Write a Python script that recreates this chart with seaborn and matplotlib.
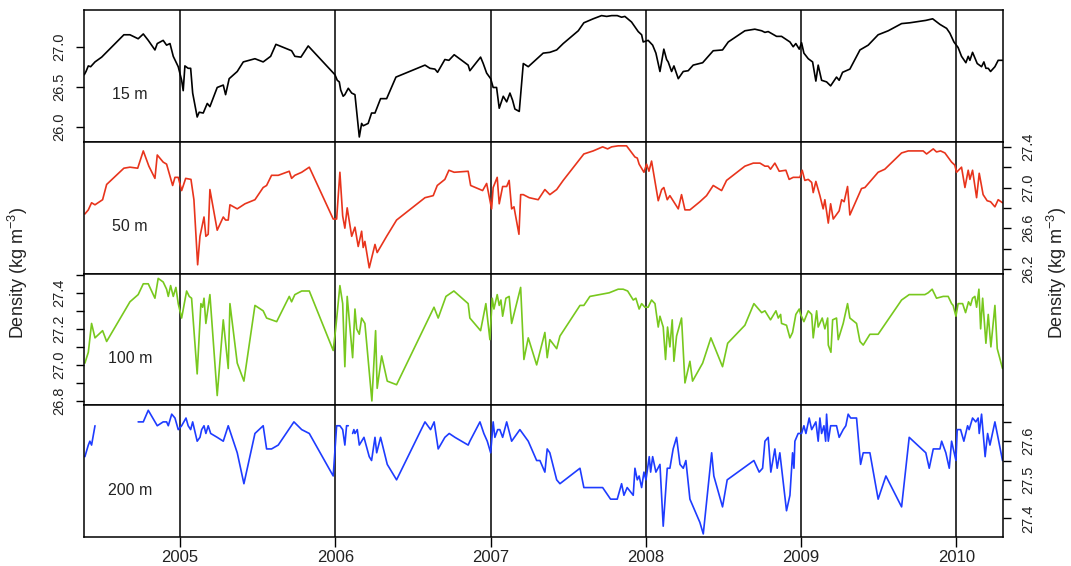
import numpy as np
import pandas as pd
import matplotlib
matplotlib.use("Agg")
import matplotlib.pyplot as plt
import seaborn as sns

# Density time series (decimal year, kg m^-3) at four depths
depth_15m = [
    (2004.384, 26.65), (2004.395, 26.69), (2004.410, 26.76), (2004.425, 26.75), (2004.453, 26.81),
    (2004.496, 26.87), (2004.639, 27.15), (2004.678, 27.15), (2004.731, 27.10), (2004.764, 27.16),
    (2004.796, 27.08), (2004.839, 26.96), (2004.854, 27.04), (2004.892, 27.08), (2004.914, 27.02),
    (2004.936, 27.04), (2004.957, 26.88), (2004.989, 26.75), (2005.011, 26.58), (2005.021, 26.45),
    (2005.032, 26.76), (2005.053, 26.73), (2005.069, 26.73), (2005.082, 26.42), (2005.111, 26.12),
    (2005.124, 26.18), (2005.150, 26.17), (2005.176, 26.29), (2005.193, 26.25), (2005.240, 26.49),
    (2005.279, 26.52), (2005.294, 26.40), (2005.317, 26.60), (2005.369, 26.69), (2005.408, 26.81),
    (2005.483, 26.85), (2005.536, 26.81), (2005.584, 26.88), (2005.618, 27.03), (2005.719, 26.95),
    (2005.740, 26.88), (2005.779, 26.87), (2005.826, 27.01), (2005.998, 26.65), (2006.013, 26.58),
    (2006.026, 26.56), (2006.035, 26.46), (2006.051, 26.38), (2006.062, 26.40), (2006.084, 26.48),
    (2006.106, 26.42), (2006.127, 26.40), (2006.155, 25.87), (2006.170, 26.04), (2006.180, 26.01),
    (2006.212, 26.04), (2006.234, 26.17), (2006.256, 26.17), (2006.292, 26.35), (2006.331, 26.35),
    (2006.391, 26.62), (2006.578, 26.77), (2006.610, 26.73), (2006.642, 26.72), (2006.659, 26.68),
    (2006.706, 26.84), (2006.732, 26.83), (2006.766, 26.90), (2006.856, 26.77), (2006.867, 26.70),
    (2006.936, 26.87), (2006.953, 26.79), (2006.975, 26.67), (2007.001, 26.60), (2007.017, 26.49),
    (2007.039, 26.49), (2007.056, 26.23), (2007.082, 26.38), (2007.104, 26.31), (2007.125, 26.42),
    (2007.142, 26.33), (2007.157, 26.22), (2007.185, 26.19), (2007.211, 26.79), (2007.243, 26.75),
    (2007.339, 26.92), (2007.382, 26.93), (2007.426, 26.96), (2007.468, 27.04), (2007.565, 27.20),
    (2007.601, 27.30), (2007.661, 27.35), (2007.715, 27.39), (2007.748, 27.38), (2007.780, 27.39),
    (2007.816, 27.39), (2007.844, 27.37), (2007.865, 27.38), (2007.908, 27.31), (2007.951, 27.19),
    (2007.973, 27.15), (2007.983, 27.06), (2008.015, 27.08), (2008.044, 27.02), (2008.065, 26.92),
    (2008.091, 26.69), (2008.116, 26.97), (2008.134, 26.84), (2008.144, 26.81), (2008.166, 26.69),
    (2008.181, 26.76), (2008.209, 26.60), (2008.241, 26.69), (2008.273, 26.70), (2008.305, 26.77),
    (2008.366, 26.80), (2008.434, 26.95), (2008.494, 26.96), (2008.531, 27.06), (2008.638, 27.20),
    (2008.702, 27.22), (2008.746, 27.20), (2008.767, 27.18), (2008.788, 27.19), (2008.842, 27.13),
    (2008.874, 27.13), (2008.928, 27.06), (2008.949, 27.00), (2008.966, 27.04), (2008.988, 26.97),
    (2009.003, 27.05), (2009.018, 26.92), (2009.046, 26.85), (2009.074, 26.81), (2009.095, 26.57),
    (2009.110, 26.77), (2009.132, 26.58), (2009.164, 26.56), (2009.190, 26.51), (2009.228, 26.62),
    (2009.245, 26.58), (2009.267, 26.68), (2009.314, 26.72), (2009.379, 26.96), (2009.432, 27.02),
    (2009.496, 27.15), (2009.561, 27.20), (2009.647, 27.29), (2009.700, 27.30), (2009.803, 27.33),
    (2009.847, 27.35), (2009.894, 27.28), (2009.937, 27.23), (2009.958, 27.17), (2009.984, 27.06),
    (2010.011, 26.99), (2010.033, 26.88), (2010.061, 26.80), (2010.076, 26.88), (2010.087, 26.83),
    (2010.104, 26.93), (2010.134, 26.79), (2010.162, 26.75), (2010.177, 26.81), (2010.190, 26.73),
    (2010.205, 26.73), (2010.220, 26.69), (2010.248, 26.75), (2010.269, 26.83), (2010.297, 26.83),
]

depth_50m = [
    (2004.388, 26.74), (2004.410, 26.78), (2004.431, 26.85), (2004.453, 26.83), (2004.502, 26.88),
    (2004.528, 27.03), (2004.639, 27.19), (2004.678, 27.20), (2004.728, 27.19), (2004.764, 27.36),
    (2004.800, 27.21), (2004.839, 27.09), (2004.854, 27.32), (2004.892, 27.25), (2004.914, 27.23),
    (2004.936, 27.11), (2004.953, 27.02), (2004.968, 27.10), (2004.989, 27.10), (2005.011, 26.97),
    (2005.037, 27.09), (2005.071, 27.08), (2005.090, 26.88), (2005.114, 26.24), (2005.129, 26.52),
    (2005.155, 26.71), (2005.167, 26.52), (2005.182, 26.54), (2005.193, 26.98), (2005.240, 26.58),
    (2005.279, 26.71), (2005.294, 26.68), (2005.311, 26.68), (2005.322, 26.83), (2005.369, 26.79),
    (2005.419, 26.84), (2005.483, 26.88), (2005.536, 27.00), (2005.558, 27.02), (2005.590, 27.12),
    (2005.633, 27.12), (2005.704, 27.16), (2005.719, 27.09), (2005.740, 27.12), (2005.784, 27.15),
    (2005.833, 27.20), (2005.987, 26.69), (2006.009, 26.69), (2006.030, 27.15), (2006.048, 26.72),
    (2006.062, 26.60), (2006.077, 26.80), (2006.106, 26.52), (2006.127, 26.61), (2006.148, 26.42),
    (2006.170, 26.57), (2006.180, 26.41), (2006.191, 26.47), (2006.219, 26.21), (2006.256, 26.44),
    (2006.270, 26.36), (2006.331, 26.52), (2006.395, 26.68), (2006.578, 26.90), (2006.631, 26.92),
    (2006.657, 27.02), (2006.706, 27.08), (2006.732, 27.17), (2006.766, 27.15), (2006.856, 27.16),
    (2006.872, 27.02), (2006.949, 26.97), (2006.975, 27.04), (2007.007, 26.79), (2007.017, 27.00),
    (2007.043, 27.10), (2007.056, 26.84), (2007.078, 27.01), (2007.104, 27.01), (2007.120, 27.07),
    (2007.136, 26.79), (2007.151, 26.81), (2007.183, 26.54), (2007.194, 26.93), (2007.211, 26.93),
    (2007.249, 26.90), (2007.307, 26.88), (2007.350, 26.98), (2007.382, 26.93), (2007.426, 26.98),
    (2007.468, 27.07), (2007.601, 27.33), (2007.661, 27.36), (2007.722, 27.40), (2007.754, 27.38),
    (2007.780, 27.40), (2007.822, 27.41), (2007.876, 27.41), (2007.930, 27.30), (2007.945, 27.29),
    (2007.957, 27.23), (2007.988, 27.15), (2008.005, 27.23), (2008.020, 27.16), (2008.037, 27.26),
    (2008.080, 26.87), (2008.102, 26.98), (2008.116, 27.00), (2008.138, 26.88), (2008.155, 26.92),
    (2008.209, 26.79), (2008.230, 26.93), (2008.252, 26.78), (2008.284, 26.78), (2008.348, 26.86),
    (2008.391, 26.92), (2008.434, 27.02), (2008.488, 26.97), (2008.520, 27.07), (2008.638, 27.21),
    (2008.692, 27.24), (2008.735, 27.24), (2008.767, 27.21), (2008.788, 27.21), (2008.803, 27.18),
    (2008.831, 27.24), (2008.859, 27.16), (2008.902, 27.17), (2008.923, 27.08), (2008.949, 27.10),
    (2008.992, 27.10), (2009.007, 27.17), (2009.024, 27.07), (2009.046, 27.08), (2009.068, 27.05),
    (2009.078, 26.95), (2009.095, 27.06), (2009.121, 26.92), (2009.142, 26.79), (2009.153, 26.88),
    (2009.175, 26.65), (2009.190, 26.84), (2009.207, 26.69), (2009.245, 26.77), (2009.261, 26.88),
    (2009.277, 26.86), (2009.299, 27.01), (2009.314, 26.73), (2009.389, 26.99), (2009.411, 27.00),
    (2009.496, 27.15), (2009.539, 27.18), (2009.647, 27.34), (2009.690, 27.36), (2009.786, 27.36),
    (2009.808, 27.33), (2009.851, 27.38), (2009.872, 27.35), (2009.898, 27.36), (2009.926, 27.34),
    (2009.969, 27.25), (2009.990, 27.22), (2010.001, 27.15), (2010.033, 27.20), (2010.055, 27.00),
    (2010.076, 27.17), (2010.087, 27.08), (2010.104, 27.17), (2010.130, 26.90), (2010.147, 27.14),
    (2010.172, 26.93), (2010.198, 26.87), (2010.220, 26.86), (2010.248, 26.81), (2010.269, 26.88),
    (2010.297, 26.85),
]

depth_100m = [
    (2004.388, 27.01), (2004.410, 27.07), (2004.431, 27.23), (2004.453, 27.15), (2004.502, 27.19),
    (2004.528, 27.13), (2004.678, 27.35), (2004.731, 27.39), (2004.764, 27.45), (2004.796, 27.45),
    (2004.839, 27.37), (2004.860, 27.48), (2004.892, 27.46), (2004.914, 27.42), (2004.925, 27.38),
    (2004.940, 27.44), (2004.957, 27.38), (2004.974, 27.43), (2004.989, 27.34), (2005.011, 27.26),
    (2005.043, 27.41), (2005.060, 27.38), (2005.075, 27.37), (2005.111, 26.95), (2005.135, 27.34),
    (2005.146, 27.32), (2005.155, 27.37), (2005.167, 27.23), (2005.193, 27.39), (2005.240, 26.83),
    (2005.279, 27.25), (2005.311, 26.98), (2005.322, 27.34), (2005.369, 27.01), (2005.412, 26.91),
    (2005.483, 27.33), (2005.536, 27.30), (2005.558, 27.26), (2005.623, 27.24), (2005.704, 27.38),
    (2005.719, 27.35), (2005.740, 27.39), (2005.784, 27.41), (2005.833, 27.41), (2005.987, 27.08),
    (2006.004, 27.21), (2006.030, 27.44), (2006.048, 27.34), (2006.062, 26.99), (2006.077, 27.38),
    (2006.112, 27.04), (2006.127, 27.31), (2006.138, 27.20), (2006.155, 27.17), (2006.170, 27.26),
    (2006.191, 27.23), (2006.236, 26.80), (2006.260, 27.19), (2006.270, 26.87), (2006.299, 27.05),
    (2006.335, 26.91), (2006.395, 26.89), (2006.636, 27.32), (2006.663, 27.26), (2006.713, 27.38),
    (2006.764, 27.41), (2006.856, 27.34), (2006.867, 27.26), (2006.936, 27.19), (2006.970, 27.34),
    (2006.996, 27.14), (2007.011, 27.37), (2007.022, 27.31), (2007.043, 27.39), (2007.056, 27.33),
    (2007.067, 27.36), (2007.078, 27.27), (2007.099, 27.37), (2007.120, 27.38), (2007.136, 27.23),
    (2007.194, 27.43), (2007.215, 27.03), (2007.243, 27.15), (2007.297, 27.00), (2007.350, 27.18),
    (2007.365, 27.04), (2007.382, 27.14), (2007.426, 27.09), (2007.447, 27.16), (2007.576, 27.33),
    (2007.601, 27.33), (2007.640, 27.38), (2007.764, 27.40), (2007.822, 27.42), (2007.854, 27.42),
    (2007.883, 27.41), (2007.919, 27.36), (2007.936, 27.37), (2007.957, 27.31), (2007.973, 27.34),
    (2007.994, 27.32), (2008.015, 27.32), (2008.037, 27.36), (2008.059, 27.34), (2008.080, 27.21),
    (2008.091, 27.27), (2008.112, 27.21), (2008.127, 27.03), (2008.140, 27.21), (2008.155, 27.10),
    (2008.170, 27.25), (2008.181, 27.02), (2008.198, 27.16), (2008.230, 27.26), (2008.252, 26.90),
    (2008.284, 27.02), (2008.301, 26.91), (2008.366, 27.01), (2008.419, 27.15), (2008.494, 26.99),
    (2008.527, 27.12), (2008.638, 27.22), (2008.696, 27.34), (2008.746, 27.29), (2008.767, 27.30),
    (2008.803, 27.25), (2008.838, 27.30), (2008.853, 27.26), (2008.868, 27.28), (2008.874, 27.23),
    (2008.906, 27.22), (2008.928, 27.15), (2008.945, 27.18), (2008.966, 27.28), (2008.988, 27.31),
    (2008.997, 27.28), (2009.018, 27.24), (2009.046, 27.30), (2009.068, 27.28), (2009.078, 27.15),
    (2009.100, 27.30), (2009.110, 27.21), (2009.136, 27.26), (2009.153, 27.20), (2009.171, 27.26),
    (2009.175, 27.11), (2009.192, 27.07), (2009.203, 27.25), (2009.228, 27.26), (2009.239, 27.14),
    (2009.271, 27.23), (2009.299, 27.34), (2009.314, 27.26), (2009.357, 27.23), (2009.379, 27.13),
    (2009.400, 27.11), (2009.443, 27.17), (2009.496, 27.17), (2009.647, 27.36), (2009.696, 27.39),
    (2009.797, 27.39), (2009.818, 27.40), (2009.844, 27.42), (2009.872, 27.37), (2009.915, 27.38),
    (2009.947, 27.38), (2009.969, 27.34), (2009.979, 27.33), (2009.997, 27.27), (2010.011, 27.34),
    (2010.040, 27.34), (2010.059, 27.29), (2010.078, 27.35), (2010.091, 27.33), (2010.104, 27.37),
    (2010.119, 27.38), (2010.130, 27.32), (2010.145, 27.42), (2010.156, 27.20), (2010.169, 27.37),
    (2010.190, 27.12), (2010.205, 27.28), (2010.222, 27.10), (2010.248, 27.33), (2010.263, 27.09),
    (2010.297, 26.98),
]

# None marks a break in the 200 m record
depth_200m = [
    (2004.388, 27.56), (2004.410, 27.59), (2004.420, 27.60), (2004.431, 27.59), (2004.453, 27.64),
    (2004.600, None),
    (2004.731, 27.65), (2004.764, 27.65), (2004.796, 27.68), (2004.854, 27.64), (2004.892, 27.65),
    (2004.914, 27.65), (2004.925, 27.64), (2004.947, 27.67), (2004.968, 27.66), (2004.989, 27.63),
    (2005.011, 27.64), (2005.039, 27.66), (2005.053, 27.64), (2005.069, 27.63), (2005.082, 27.65),
    (2005.111, 27.60), (2005.129, 27.61), (2005.140, 27.63), (2005.155, 27.64), (2005.167, 27.62),
    (2005.182, 27.64), (2005.198, 27.62), (2005.240, 27.61), (2005.279, 27.60), (2005.311, 27.64),
    (2005.369, 27.57), (2005.412, 27.49), (2005.483, 27.62), (2005.536, 27.64), (2005.558, 27.58),
    (2005.590, 27.58), (2005.633, 27.59), (2005.734, 27.65), (2005.784, 27.63), (2005.833, 27.62),
    (2005.987, 27.51), (2006.009, 27.64), (2006.030, 27.64), (2006.048, 27.63), (2006.062, 27.59),
    (2006.073, 27.64), (2006.084, 27.64),
    (2006.098, None),
    (2006.112, 27.62), (2006.120, 27.63), (2006.127, 27.62), (2006.142, 27.63), (2006.155, 27.59),
    (2006.185, 27.61), (2006.219, 27.56), (2006.234, 27.55), (2006.256, 27.61), (2006.267, 27.57),
    (2006.292, 27.61), (2006.335, 27.54), (2006.395, 27.50), (2006.578, 27.65), (2006.614, 27.63),
    (2006.637, 27.65), (2006.663, 27.58), (2006.706, 27.61), (2006.734, 27.62), (2006.771, 27.61),
    (2006.856, 27.59), (2006.867, 27.60), (2006.932, 27.65), (2006.957, 27.62), (2006.979, 27.60),
    (2007.001, 27.57), (2007.017, 27.65), (2007.028, 27.61), (2007.046, 27.63), (2007.060, 27.63),
    (2007.078, 27.61), (2007.104, 27.65), (2007.136, 27.60), (2007.189, 27.63), (2007.243, 27.60),
    (2007.297, 27.55), (2007.318, 27.55), (2007.350, 27.52), (2007.365, 27.58), (2007.382, 27.57),
    (2007.426, 27.50), (2007.447, 27.49), (2007.576, 27.53), (2007.601, 27.48), (2007.640, 27.48),
    (2007.722, 27.48), (2007.773, 27.45), (2007.816, 27.45), (2007.844, 27.49), (2007.859, 27.46),
    (2007.880, 27.48), (2007.919, 27.46), (2007.930, 27.53), (2007.945, 27.50), (2007.957, 27.51),
    (2007.973, 27.48), (2007.988, 27.52), (2008.001, 27.50), (2008.022, 27.56), (2008.031, 27.52),
    (2008.044, 27.56), (2008.065, 27.52), (2008.091, 27.54), (2008.112, 27.38), (2008.138, 27.53),
    (2008.155, 27.53), (2008.176, 27.58), (2008.198, 27.61), (2008.220, 27.54), (2008.241, 27.53),
    (2008.258, 27.55), (2008.284, 27.45), (2008.348, 27.39), (2008.370, 27.36), (2008.424, 27.57),
    (2008.438, 27.51), (2008.494, 27.43), (2008.524, 27.50), (2008.696, 27.55), (2008.730, 27.52),
    (2008.752, 27.53), (2008.767, 27.60), (2008.788, 27.61), (2008.805, 27.52), (2008.831, 27.58),
    (2008.846, 27.53), (2008.863, 27.57), (2008.906, 27.42), (2008.928, 27.46), (2008.945, 27.57),
    (2008.954, 27.53), (2008.960, 27.60), (2008.981, 27.62), (2009.003, 27.62), (2009.018, 27.64),
    (2009.031, 27.62), (2009.052, 27.66), (2009.068, 27.63), (2009.095, 27.65), (2009.110, 27.60),
    (2009.121, 27.66), (2009.132, 27.62), (2009.147, 27.64), (2009.158, 27.60), (2009.164, 27.67),
    (2009.175, 27.60), (2009.190, 27.64), (2009.228, 27.64), (2009.245, 27.61), (2009.271, 27.63),
    (2009.288, 27.64), (2009.303, 27.67), (2009.319, 27.66), (2009.357, 27.66), (2009.383, 27.54),
    (2009.400, 27.57), (2009.443, 27.57), (2009.496, 27.45), (2009.546, 27.51), (2009.647, 27.43),
    (2009.696, 27.61), (2009.803, 27.57), (2009.825, 27.53), (2009.851, 27.58), (2009.868, 27.58),
    (2009.894, 27.58), (2009.905, 27.60), (2009.932, 27.57), (2009.954, 27.53), (2009.969, 27.60),
    (2009.997, 27.55), (2010.005, 27.63), (2010.027, 27.63), (2010.048, 27.60), (2010.072, 27.64),
    (2010.082, 27.63), (2010.104, 27.66), (2010.125, 27.65), (2010.140, 27.66), (2010.147, 27.62),
    (2010.162, 27.67), (2010.185, 27.56), (2010.201, 27.62), (2010.216, 27.59), (2010.248, 27.65),
    (2010.297, 27.55),
]

year_ticks = [2005, 2006, 2007, 2008, 2009, 2010]
depth_labels = ["15 m", "50 m", "100 m", "200 m"]
line_colors = ["#000000", "#E8341C", "#78C81E", "#1E3CFF"]

panels = [
    dict(data=depth_15m, ylim=(25.81, 27.46), ticks=[26.0, 26.5, 27.0],
         labels=["26.0", "26.5", "27.0"], side="left"),
    dict(data=depth_50m, ylim=(26.154, 27.45), ticks=[26.2, 26.4, 26.6, 26.8, 27.0, 27.2, 27.4],
         labels=["26.2", "", "26.6", "", "27.0", "", "27.4"], side="right"),
    dict(data=depth_100m, ylim=(26.776, 27.507),
         ticks=[26.8, 26.9, 27.0, 27.1, 27.2, 27.3, 27.4, 27.5],
         labels=["26.8", "", "27.0", "", "27.2", "", "27.4", ""], side="left"),
    dict(data=depth_200m, ylim=(27.352, 27.693),
         ticks=[27.40, 27.45, 27.50, 27.55, 27.60, 27.65],
         labels=["27.4", "", "27.5", "", "27.6", ""], side="right"),
]


def to_frame(pairs):
    df = pd.DataFrame(pairs, columns=["year", "density"]).astype(float)
    # consecutive valid points share a segment id; a missing value opens a new one
    df["segment"] = df["density"].isna().cumsum()
    return df.dropna()


sns.set_theme(style="ticks")
plt.rcParams["font.family"] = ["Liberation Sans", "DejaVu Sans"]
plt.rcParams["mathtext.fontset"] = "custom"
plt.rcParams["mathtext.rm"] = "Liberation Sans"
plt.rcParams["axes.edgecolor"] = "black"
plt.rcParams["axes.linewidth"] = 1.1

fig = plt.figure(figsize=(10.71, 5.66), dpi=100)
gs = fig.add_gridspec(4, 1, left=0.0784, right=0.9365, top=0.9823, bottom=0.0512, hspace=0)

for i, (panel, label, color) in enumerate(zip(panels, depth_labels, line_colors)):
    ax = fig.add_subplot(gs[i])
    df = to_frame(panel["data"])
    for yr in year_ticks:
        ax.axvline(yr, color="black", lw=1.1, zorder=1)
    sns.lineplot(data=df, x="year", y="density", units="segment", estimator=None,
                 sort=False, color=color, lw=1.2, ax=ax, legend=False, zorder=2)
    ax.set_xlim(2004.382, 2010.30)
    ax.set_ylim(*panel["ylim"])
    ax.set_xlabel("")
    ax.set_ylabel("")
    ax.set_yticks(panel["ticks"])
    if panel["side"] == "left":
        ax.tick_params(axis="y", left=True, right=False, labelleft=True, labelright=False,
                       length=5.5, width=1.0, pad=7, color="black")
        ax.set_yticklabels(panel["labels"], rotation=90, va="center", ha="right",
                           fontsize=10.5, color="#222222")
    else:
        ax.tick_params(axis="y", left=False, right=True, labelleft=False, labelright=True,
                       length=6, width=1.0, pad=7, color="black")
        ax.set_yticklabels(panel["labels"], rotation=90, va="center", ha="left",
                           fontsize=10.5, color="#222222")
    if i < 3:
        ax.set_xticks([])
    else:
        ax.set_xticks(year_ticks)
        ax.set_xticklabels([str(y) for y in year_ticks], fontsize=12, color="#222222")
        ax.tick_params(axis="x", length=7, width=1.0, pad=2, color="black")
    for sp in ax.spines.values():
        sp.set_visible(True)
        sp.set_color("black")
    ax.text(0.05, 0.355, label, transform=ax.transAxes, ha="center", va="center",
            fontsize=11.5, color="#222222")

ylabel = r"Density (kg m$^{\mathregular{-3}}$)"
fig.text(0.0168, 0.517, ylabel, rotation=90, ha="center", va="center", fontsize=13, color="#222222")
fig.text(0.9870, 0.517, ylabel, rotation=90, ha="center", va="center", fontsize=13, color="#222222")

fig.savefig("out.png", dpi=100)
